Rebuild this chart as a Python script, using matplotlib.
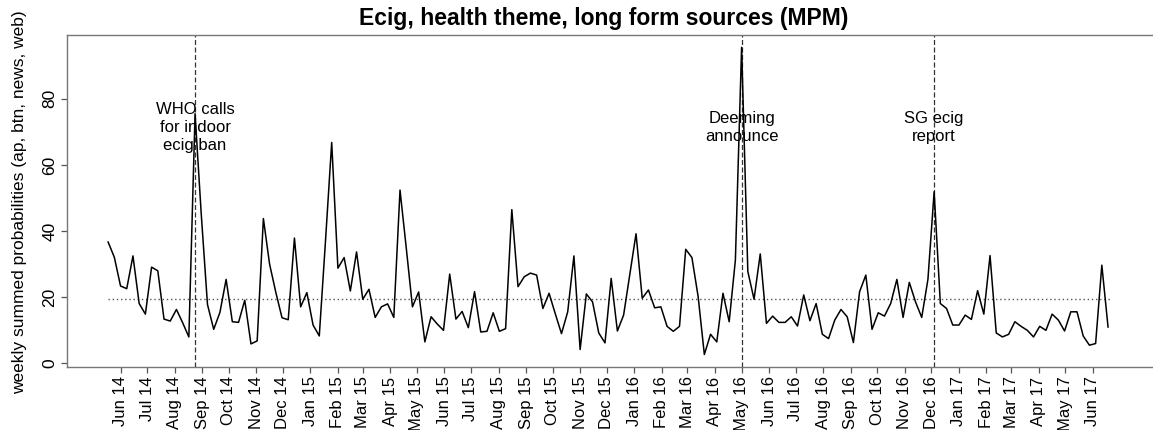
import numpy as np
import pandas as pd
import matplotlib
matplotlib.use("Agg")
import matplotlib.pyplot as plt
import matplotlib.dates as mdates

plt.rcParams['font.family'] = ['Liberation Sans', 'DejaVu Sans']

# ---- data -------------------------------------------------------------
start_week = "2014-05-18"
weekly_values = [
    36.7, 32.1, 23.4, 22.6, 32.5, 18.1, 14.9, 29.1, 28.0, 13.4, 12.8, 16.3, 12.3, 8.0,
    75.5, 45.0, 17.8, 10.3, 15.4, 25.4, 12.6, 12.4, 19.1, 5.9, 6.8, 43.8, 30.0, 21.5,
    13.8, 13.2, 37.9, 17.1, 21.4, 11.6, 8.3, 37.0,
    66.8, 28.8, 32.0, 21.9, 33.7, 19.4, 22.4, 13.9, 17.1, 18.0, 13.9, 52.4, 35.0, 17.1,
    21.6, 6.5, 14.1, 11.9, 10.0, 27.0, 13.4, 15.7, 10.8, 21.7, 9.5, 9.7, 15.3, 9.7, 10.5,
    46.5, 23.2, 26.2, 27.3, 26.7, 16.6, 21.2, 15.0, 9.0, 15.6, 32.5, 4.2, 21.0, 18.6,
    9.2, 6.2, 25.7, 9.8, 14.6, 27.0, 39.2, 19.7, 22.2, 16.8, 17.1, 11.2, 9.7, 11.2,
    34.5, 32.0, 20.2, 2.7,
    8.8, 6.5, 21.2, 12.6, 31.3, 95.6, 27.8, 19.4, 33.1, 12.1, 14.3, 12.4, 12.4, 14.1,
    11.3, 20.7, 12.9, 18.1, 8.8, 7.5, 13.1, 16.3, 14.1, 6.3, 21.7, 26.7, 10.3, 15.3,
    14.3, 18.1, 25.4, 13.9, 24.5, 18.6, 13.9, 25.4, 51.9,
    18.1, 16.6, 11.6, 11.6, 14.6, 13.3, 22.0, 14.9, 32.6, 9.2, 8.0, 8.8, 12.6, 11.2,
    10.0, 8.0, 11.2, 10.0, 14.9, 13.1, 9.8, 15.6, 15.6, 8.3, 5.5, 6.0, 29.7, 11.0,
]
event_weeks = ["2014-08-24", "2016-05-01", "2016-12-04"]
event_labels = ["WHO calls\nfor indoor\necig ban", "Deeming\nannounce", "SG ecig\nreport"]
tick_months = pd.date_range("2014-06-01", "2017-06-01", freq="MS")
tick_labels = [d.strftime("%b %y") for d in tick_months]
y_ticks = [0, 20, 40, 60, 80]

title = "Ecig, health theme, long form sources (MPM)"
ylabel = "weekly summed probabilities (ap, btn, news, web)"

# ---- figure -----------------------------------------------------------
W, H = 1153, 430
fig = plt.figure(figsize=(W / 100, H / 100), dpi=100)
left_px, right_px, top_px, bottom_px = 67, 1154, 35, 366.7
ax = fig.add_axes([left_px / W, 1 - bottom_px / H,
                   (right_px - left_px) / W, (bottom_px - top_px) / H])

dates = pd.date_range(start_week, periods=len(weekly_values), freq="7D")
ax.plot(dates, weekly_values, color="black", lw=1.1, zorder=3)

mean_level = float(np.mean(weekly_values))
ax.hlines(mean_level, dates[0], dates[-1] + pd.Timedelta(days=3),
          colors="#555555", linestyles=(0, (1, 2)), lw=1.0, zorder=2)

for d, lab in zip(event_weeks, event_labels):
    dd = pd.Timestamp(d)
    ax.axvline(dd, color="#333333", lw=0.9, linestyle=(0, (4, 2)), zorder=2)
    ax.text(dd, 71.3, lab, ha="center", va="center", fontsize=12,
            linespacing=1.25, color="black", zorder=4)

d0 = mdates.date2num(pd.Timestamp(start_week))
ax.set_xlim(d0 - 7 * 6.62, d0 + 7 * 168.4)
ax.set_ylim(-1.0, 99.3)

ax.set_xticks(tick_months)
ax.set_xticklabels(tick_labels, rotation=90, fontsize=12)
ax.set_yticks(y_ticks)
ax.set_yticklabels([str(v) for v in y_ticks], rotation=90, va="center", fontsize=12.5)
ax.tick_params(axis="both", length=4.5, width=0.9, color="#555555", pad=2.5)

for s in ["left", "bottom", "top"]:
    ax.spines[s].set_color("#777777")
    ax.spines[s].set_linewidth(1.0)
ax.spines["right"].set_visible(False)

fig.text(603.5 / W, 1 - 18 / H, title, ha="center", va="center",
         fontsize=16.5, fontweight="bold")
fig.text(20 / W, 1 - 202 / H, ylabel, ha="center", va="center",
         rotation=90, fontsize=12.5)

fig.savefig("out.png", dpi=100)
